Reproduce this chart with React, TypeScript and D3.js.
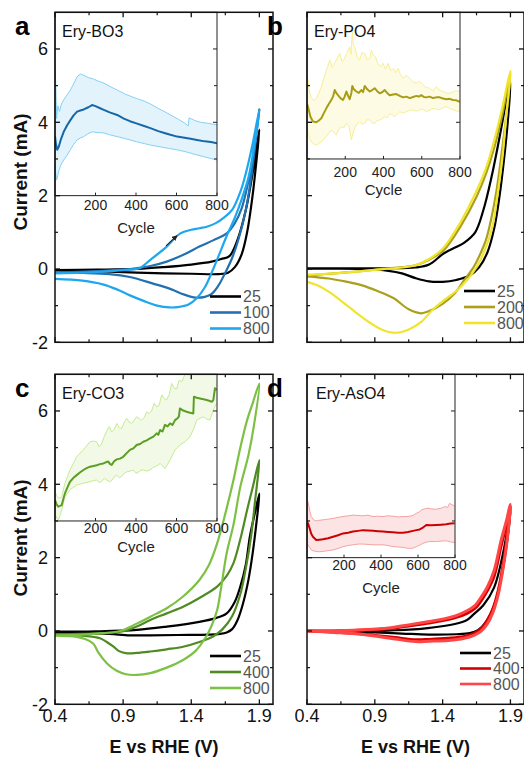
import React from 'react';
import * as d3 from 'd3';

const FONT = '"Liberation Sans", Arial, Helvetica, sans-serif';

// ---------- axes ----------
const xDomain: [number, number] = [0.4, 2.0];
const yDomain: [number, number] = [-2, 7];
const xTicks = [0.4, 0.9, 1.4, 1.9];
const xMinorTicks = [0.65, 1.15, 1.65];
const yTicks = [-2, 0, 2, 4, 6];
const yMinorTicks = [-1, 1, 3, 5];
const cycleDomain: [number, number] = [0, 800];
const cycleTicks = [200, 400, 600, 800];

// ---------- panel a : Ery-BO3 ----------
const a25V = [0.4, 0.7, 1.0, 1.2, 1.4, 1.55, 1.62, 1.68, 1.74, 1.8, 1.85, 1.9, 1.88, 1.85, 1.81, 1.77, 1.72, 1.67, 1.6, 1.4, 1.2, 1.0, 0.8, 0.6, 0.4];
const a25I = [-0.03, -0.02, 0.0, 0.05, 0.12, 0.2, 0.27, 0.35, 0.8, 1.6, 2.6, 3.8, 3.0, 2.0, 1.0, 0.4, 0.05, -0.1, -0.14, -0.13, -0.12, -0.1, -0.07, -0.05, -0.04];
const a100V = [0.4, 0.7, 0.9, 1.0, 1.1, 1.22, 1.35, 1.46, 1.56, 1.66, 1.72, 1.77, 1.82, 1.86, 1.9, 1.87, 1.84, 1.8, 1.75, 1.7, 1.65, 1.6, 1.55, 1.5, 1.43, 1.35, 1.25, 1.12, 0.95, 0.8, 0.6, 0.4];
const a100I = [-0.1, -0.06, -0.02, 0.02, 0.08, 0.2, 0.4, 0.61, 0.78, 0.97, 1.25, 1.65, 2.4, 3.2, 4.35, 3.4, 2.5, 1.6, 0.85, 0.3, -0.1, -0.45, -0.68, -0.76, -0.78, -0.7, -0.55, -0.4, -0.22, -0.14, -0.11, -0.1];
const a800V = [0.4, 0.6, 0.8, 0.95, 1.02, 1.1, 1.22, 1.32, 1.4, 1.46, 1.52, 1.58, 1.64, 1.7, 1.76, 1.8, 1.85, 1.9, 1.86, 1.82, 1.77, 1.72, 1.66, 1.6, 1.55, 1.5, 1.44, 1.38, 1.3, 1.24, 1.15, 1.05, 0.95, 0.85, 0.75, 0.6, 0.4];
const a800I = [-0.12, -0.1, -0.06, -0.02, 0.02, 0.25, 0.61, 0.97, 1.07, 1.11, 1.16, 1.25, 1.4, 1.61, 2.1, 2.6, 3.4, 4.35, 3.3, 2.5, 1.9, 1.4, 0.9, 0.35, -0.1, -0.5, -0.8, -0.97, -1.04, -1.05, -1.0, -0.87, -0.72, -0.55, -0.42, -0.32, -0.27];
const aArrowV = [1.215, 1.293];
const aArrowI = [0.63, 0.9];
const aMeanCyc = [0, 5, 11, 19, 30, 43, 60, 76, 92, 109, 125, 142, 165, 183, 200, 220, 241, 270, 307, 340, 370, 402, 440, 471, 510, 540, 570, 603, 640, 670, 701, 740, 770, 800];
const aMean = [3.62, 3.4, 3.25, 3.34, 3.55, 3.74, 3.92, 4.06, 4.19, 4.29, 4.32, 4.35, 4.41, 4.47, 4.44, 4.39, 4.34, 4.27, 4.2, 4.1, 4.03, 3.97, 3.9, 3.84, 3.76, 3.71, 3.66, 3.61, 3.58, 3.55, 3.52, 3.48, 3.46, 3.43];
const aUpCyc = [0, 4, 8, 14, 22, 32, 43, 60, 76, 92, 109, 125, 142, 165, 190, 215, 241, 270, 307, 350, 402, 440, 471, 510, 548, 580, 610, 640, 658, 662, 690, 720, 760, 800];
const aUp = [5.55, 5.0, 4.1, 4.45, 4.3, 4.5, 4.61, 4.75, 4.88, 5.05, 5.24, 5.32, 5.28, 5.22, 5.18, 5.12, 5.07, 4.98, 4.88, 4.76, 4.65, 4.58, 4.5, 4.38, 4.27, 4.17, 4.08, 3.98, 3.9, 4.12, 4.05, 4.0, 3.97, 3.93];
const aLoCyc = [0, 4, 8, 14, 20, 30, 43, 60, 76, 92, 109, 125, 142, 160, 183, 210, 241, 270, 307, 350, 402, 440, 471, 520, 560, 603, 650, 701, 750, 800];
const aLo = [2.85, 2.6, 2.43, 2.55, 2.7, 2.85, 2.97, 3.1, 3.25, 3.4, 3.52, 3.57, 3.61, 3.68, 3.74, 3.72, 3.71, 3.66, 3.61, 3.55, 3.47, 3.42, 3.38, 3.33, 3.29, 3.25, 3.19, 3.11, 3.04, 2.97];

// ---------- panel b : Ery-PO4 ----------
const b25V = [0.4, 0.7, 1.0, 1.2, 1.3, 1.41, 1.5, 1.56, 1.64, 1.7, 1.76, 1.82, 1.87, 1.9, 1.88, 1.85, 1.82, 1.78, 1.73, 1.67, 1.6, 1.5, 1.4, 1.3, 1.2, 1.1, 1.0, 0.8, 0.6, 0.4];
const b25I = [0.02, 0.02, 0.02, 0.04, 0.12, 0.43, 0.6, 0.72, 1.0, 1.6, 2.5, 3.6, 4.6, 5.1, 4.0, 2.9, 2.0, 1.1, 0.45, 0.05, -0.18, -0.3, -0.35, -0.34, -0.25, -0.12, -0.05, 0.0, 0.01, 0.01];
const b200V = [0.4, 0.6, 0.8, 0.95, 1.1, 1.2, 1.3, 1.41, 1.53, 1.65, 1.72, 1.78, 1.84, 1.9, 1.87, 1.84, 1.8, 1.76, 1.72, 1.67, 1.63, 1.56, 1.49, 1.4, 1.3, 1.24, 1.15, 1.04, 0.92, 0.8, 0.68, 0.56, 0.4];
const b200I = [-0.18, -0.12, -0.06, 0.0, 0.05, 0.1, 0.25, 0.52, 1.15, 1.97, 2.6, 3.3, 4.2, 5.3, 4.2, 3.3, 2.2, 1.4, 0.8, 0.35, 0.06, -0.3, -0.66, -0.95, -1.15, -1.21, -1.1, -0.8, -0.6, -0.44, -0.34, -0.26, -0.2];
const b800V = [0.4, 0.6, 0.8, 0.95, 1.1, 1.2, 1.3, 1.4, 1.52, 1.64, 1.72, 1.78, 1.84, 1.9, 1.87, 1.84, 1.8, 1.77, 1.72, 1.65, 1.58, 1.5, 1.41, 1.33, 1.24, 1.15, 1.05, 0.95, 0.8, 0.68, 0.56, 0.48, 0.4];
const b800I = [-0.16, -0.12, -0.06, -0.01, 0.04, 0.1, 0.27, 0.55, 1.2, 2.05, 2.75, 3.5, 4.4, 5.4, 4.2, 3.0, 1.9, 1.2, 0.6, 0.05, -0.3, -0.6, -0.85, -1.1, -1.45, -1.65, -1.74, -1.65, -1.3, -0.95, -0.62, -0.45, -0.35];
const bMeanCyc = [0, 5, 18, 31, 49, 62, 75, 88, 101, 114, 127, 136, 145, 153, 162, 175, 188, 197, 206, 215, 223, 232, 237, 245, 258, 271, 284, 293, 302, 315, 328, 341, 354, 367, 380, 393, 406, 419, 432, 450, 467, 485, 502, 520, 537, 555, 572, 585, 598, 611, 624, 641, 659, 676, 694, 711, 729, 746, 763, 781, 798];
const bMean = [4.5, 4.43, 4.15, 4.02, 4.0, 4.05, 4.11, 4.25, 4.38, 4.5, 4.61, 4.7, 4.88, 4.8, 4.74, 4.66, 4.61, 4.7, 4.84, 4.72, 4.63, 4.8, 4.99, 4.9, 4.84, 4.8, 4.88, 4.82, 4.99, 4.9, 4.84, 4.88, 4.93, 4.85, 4.79, 4.82, 4.88, 4.8, 4.74, 4.76, 4.77, 4.72, 4.68, 4.7, 4.66, 4.69, 4.72, 4.7, 4.74, 4.69, 4.68, 4.7, 4.66, 4.68, 4.68, 4.65, 4.63, 4.64, 4.61, 4.6, 4.56];
const bUpCyc = [0, 5, 14, 23, 36, 49, 62, 75, 88, 101, 110, 119, 132, 145, 158, 171, 184, 197, 210, 223, 230, 237, 243, 249, 262, 275, 288, 302, 315, 328, 337, 345, 358, 371, 384, 397, 410, 424, 437, 450, 463, 476, 489, 502, 519, 537, 554, 572, 589, 607, 624, 641, 659, 676, 694, 711, 729, 746, 763, 781, 798];
const bUp = [5.25, 5.15, 4.8, 4.66, 4.6, 4.66, 4.8, 4.97, 5.2, 5.43, 5.55, 5.7, 5.5, 5.61, 5.75, 5.88, 5.65, 5.75, 5.9, 6.06, 5.85, 6.47, 6.1, 6.06, 5.8, 5.7, 5.9, 5.88, 5.7, 5.75, 5.97, 5.85, 5.79, 5.6, 5.52, 5.61, 5.45, 5.61, 5.4, 5.47, 5.35, 5.47, 5.3, 5.2, 5.28, 5.2, 5.1, 5.07, 5.12, 5.02, 4.95, 4.93, 4.85, 4.97, 4.88, 4.84, 4.8, 4.79, 4.83, 4.86, 4.84];
const bLoCyc = [0, 5, 14, 23, 36, 49, 62, 75, 88, 101, 114, 127, 140, 153, 166, 180, 193, 206, 219, 232, 240, 249, 262, 275, 288, 302, 315, 328, 341, 354, 367, 380, 393, 406, 419, 432, 445, 458, 471, 485, 502, 519, 537, 554, 572, 589, 607, 624, 641, 659, 676, 694, 711, 729, 746, 763, 781, 798];
const bLo = [3.85, 3.7, 3.55, 3.47, 3.4, 3.38, 3.42, 3.47, 3.55, 3.61, 3.7, 3.79, 3.72, 3.65, 3.8, 3.88, 3.85, 3.97, 3.9, 3.52, 3.7, 3.84, 3.95, 4.02, 3.95, 3.97, 4.08, 4.06, 3.98, 3.97, 4.05, 4.06, 4.1, 4.15, 4.12, 4.24, 4.2, 4.15, 4.22, 4.29, 4.25, 4.29, 4.33, 4.34, 4.3, 4.34, 4.36, 4.29, 4.33, 4.38, 4.36, 4.34, 4.4, 4.43, 4.38, 4.34, 4.31, 4.29];

// ---------- panel c : Ery-CO3 ----------
const c25V = [0.4, 0.7, 1.0, 1.22, 1.46, 1.58, 1.66, 1.72, 1.76, 1.8, 1.83, 1.86, 1.9, 1.88, 1.85, 1.82, 1.78, 1.74, 1.7, 1.66, 1.61, 1.53, 1.3, 1.1, 0.95, 0.8, 0.6, 0.4];
const c25I = [-0.02, -0.01, 0.03, 0.12, 0.25, 0.35, 0.48, 0.8, 1.21, 1.8, 2.57, 3.1, 3.75, 3.0, 2.1, 1.4, 0.75, 0.3, 0.05, -0.04, -0.08, -0.1, -0.11, -0.12, -0.12, -0.08, -0.05, -0.04];
const c400V = [0.4, 0.6, 0.8, 0.91, 1.0, 1.1, 1.22, 1.34, 1.46, 1.59, 1.66, 1.71, 1.76, 1.81, 1.85, 1.9, 1.87, 1.84, 1.8, 1.76, 1.7, 1.63, 1.56, 1.46, 1.34, 1.22, 1.1, 1.0, 0.93, 0.87, 0.83, 0.78, 0.73, 0.6, 0.49, 0.4];
const c400I = [-0.09, -0.08, -0.05, 0.0, 0.12, 0.3, 0.48, 0.66, 0.9, 1.21, 1.5, 1.85, 2.5, 3.3, 3.9, 4.66, 3.6, 2.6, 1.7, 1.0, 0.4, 0.05, -0.15, -0.3, -0.43, -0.5, -0.56, -0.6, -0.61, -0.55, -0.43, -0.3, -0.2, -0.13, -0.11, -0.1];
const c800V = [0.4, 0.6, 0.75, 0.88, 1.0, 1.1, 1.22, 1.34, 1.46, 1.53, 1.59, 1.65, 1.71, 1.76, 1.81, 1.85, 1.9, 1.86, 1.82, 1.76, 1.71, 1.66, 1.62, 1.59, 1.55, 1.51, 1.43, 1.34, 1.22, 1.1, 1.0, 0.92, 0.85, 0.78, 0.72, 0.68, 0.62, 0.56, 0.48, 0.4];
const c800I = [-0.12, -0.1, -0.06, 0.0, 0.2, 0.39, 0.62, 0.94, 1.39, 1.8, 2.39, 3.2, 4.12, 5.0, 5.75, 6.2, 6.75, 5.6, 4.8, 3.93, 2.9, 2.12, 1.2, 0.57, 0.15, -0.15, -0.55, -0.79, -1.0, -1.15, -1.2, -1.18, -1.08, -0.88, -0.6, -0.34, -0.22, -0.16, -0.14, -0.13];
const cMeanCyc = [0, 8, 16, 25, 33, 41, 49, 62, 74, 90, 107, 123, 140, 156, 173, 190, 206, 222, 239, 251, 263, 272, 280, 292, 305, 321, 337, 354, 370, 387, 403, 420, 436, 453, 469, 486, 502, 510, 519, 531, 543, 556, 568, 580, 593, 605, 612, 617, 630, 650, 667, 683, 686, 700, 716, 733, 749, 765, 774, 782, 790, 798];
const cMean = [3.57, 3.45, 3.39, 3.41, 3.43, 3.6, 3.75, 3.92, 4.07, 4.17, 4.25, 4.32, 4.39, 4.44, 4.48, 4.5, 4.52, 4.55, 4.57, 4.6, 4.62, 4.55, 4.53, 4.63, 4.68, 4.7, 4.75, 4.85, 4.94, 4.98, 5.07, 5.1, 5.16, 5.2, 5.25, 5.3, 5.39, 5.35, 5.48, 5.44, 5.62, 5.58, 5.66, 5.62, 5.75, 5.8, 5.85, 6.07, 6.02, 5.98, 5.95, 5.93, 6.39, 6.36, 6.34, 6.32, 6.3, 6.27, 6.25, 6.3, 6.62, 6.57];
const cUpCyc = [0, 8, 16, 25, 33, 49, 74, 107, 140, 173, 190, 206, 218, 230, 243, 255, 268, 280, 292, 305, 317, 329, 341, 354, 366, 379, 391, 403, 416, 428, 441, 453, 465, 477, 490, 502, 514, 527, 539, 551, 564, 576, 588, 601, 613, 626, 638, 650, 662, 675, 684, 691, 720, 760, 800];
const cUp = [3.8, 3.7, 3.62, 3.64, 3.66, 4.03, 4.39, 4.75, 4.94, 5.16, 5.18, 5.16, 5.02, 5.1, 5.3, 5.45, 5.57, 5.43, 5.5, 5.66, 5.55, 5.52, 5.68, 5.8, 5.7, 5.66, 5.75, 5.84, 5.8, 5.75, 5.82, 5.98, 5.93, 6.0, 6.21, 6.11, 6.15, 6.44, 6.34, 6.3, 6.45, 6.75, 6.62, 6.6, 6.84, 6.8, 6.95, 7.1, 7.2, 7.3, 7.4, 7.5, 7.5, 7.5, 7.5];
const cLoCyc = [0, 8, 16, 25, 33, 49, 74, 107, 140, 173, 190, 206, 218, 230, 243, 255, 268, 280, 292, 305, 317, 329, 341, 354, 370, 387, 400, 412, 424, 436, 453, 469, 482, 494, 507, 519, 531, 543, 556, 568, 580, 593, 605, 617, 642, 667, 684, 700, 716, 733, 749, 765, 782, 798];
const cLo = [3.21, 3.08, 3.03, 3.15, 3.3, 3.66, 3.85, 3.98, 4.03, 4.07, 4.1, 4.12, 4.05, 4.07, 4.16, 4.12, 4.07, 4.1, 4.2, 4.25, 4.18, 4.21, 4.3, 4.34, 4.36, 4.39, 4.3, 4.33, 4.38, 4.39, 4.36, 4.39, 4.45, 4.48, 4.52, 4.57, 4.5, 4.43, 4.55, 4.66, 4.8, 4.94, 5.0, 5.07, 5.16, 5.3, 5.5, 5.75, 5.8, 5.84, 5.78, 5.75, 6.03, 6.21];

// ---------- panel d : Ery-AsO4 ----------
const d25V = [0.4, 0.7, 0.9, 1.05, 1.29, 1.49, 1.58, 1.63, 1.7, 1.78, 1.85, 1.9, 1.87, 1.83, 1.78, 1.72, 1.66, 1.6, 1.5, 1.3, 1.1, 0.9, 0.75, 0.4];
const d25I = [0.0, 0.0, 0.01, 0.02, 0.08, 0.19, 0.3, 0.46, 0.7, 1.19, 2.2, 3.25, 2.3, 1.4, 0.7, 0.25, 0.02, -0.06, -0.09, -0.1, -0.07, -0.04, -0.02, 0.0];
const d400V = [0.4, 0.6, 0.8, 1.0, 1.17, 1.3, 1.41, 1.5, 1.58, 1.64, 1.68, 1.73, 1.78, 1.83, 1.87, 1.9, 1.88, 1.85, 1.81, 1.77, 1.73, 1.68, 1.63, 1.56, 1.44, 1.3, 1.2, 1.05, 0.9, 0.8, 0.6, 0.4];
const d400I = [0.0, 0.0, 0.02, 0.06, 0.15, 0.22, 0.29, 0.37, 0.48, 0.62, 0.8, 1.1, 1.5, 2.3, 2.9, 3.4, 2.7, 1.9, 1.1, 0.6, 0.3, 0.05, -0.07, -0.15, -0.2, -0.23, -0.24, -0.18, -0.12, -0.08, -0.03, 0.0];
const d800V = [0.4, 0.6, 0.8, 1.0, 1.17, 1.3, 1.41, 1.5, 1.58, 1.64, 1.68, 1.73, 1.78, 1.83, 1.87, 1.9, 1.88, 1.85, 1.81, 1.77, 1.73, 1.68, 1.63, 1.56, 1.44, 1.3, 1.2, 1.05, 0.9, 0.8, 0.6, 0.4];
const d800I = [0.0, 0.0, 0.03, 0.08, 0.18, 0.26, 0.33, 0.42, 0.55, 0.7, 0.9, 1.2, 1.65, 2.45, 3.0, 3.45, 2.6, 1.8, 1.0, 0.5, 0.2, -0.02, -0.12, -0.2, -0.26, -0.28, -0.29, -0.22, -0.14, -0.09, -0.04, 0.0];
const dMeanCyc = [0, 5, 14, 23, 32, 50, 68, 86, 114, 141, 168, 195, 222, 249, 276, 303, 330, 357, 384, 411, 438, 465, 492, 519, 546, 573, 591, 609, 627, 645, 672, 699, 726, 753, 776, 798];
const dMean = [2.88, 2.94, 2.8, 2.65, 2.57, 2.48, 2.49, 2.5, 2.53, 2.57, 2.61, 2.66, 2.68, 2.71, 2.73, 2.75, 2.74, 2.73, 2.72, 2.71, 2.7, 2.69, 2.68, 2.68, 2.7, 2.73, 2.75, 2.77, 2.82, 2.89, 2.88, 2.89, 2.9, 2.91, 2.93, 2.94];
const dUpCyc = [0, 5, 14, 23, 36, 50, 68, 86, 114, 141, 168, 195, 222, 249, 276, 303, 330, 357, 384, 411, 438, 465, 492, 519, 546, 573, 591, 609, 618, 636, 654, 672, 699, 726, 744, 760, 771, 785, 798];
const dUp = [3.5, 3.53, 3.3, 3.12, 3.03, 3.0, 3.02, 3.03, 3.05, 3.07, 3.1, 3.12, 3.14, 3.16, 3.15, 3.14, 3.16, 3.12, 3.13, 3.12, 3.14, 3.13, 3.11, 3.12, 3.12, 3.15, 3.21, 3.25, 3.3, 3.33, 3.35, 3.33, 3.32, 3.35, 3.39, 3.37, 3.48, 3.44, 3.41];
const dLoCyc = [0, 5, 14, 23, 36, 50, 68, 86, 114, 141, 168, 195, 222, 249, 276, 303, 330, 357, 384, 411, 438, 465, 492, 519, 537, 555, 573, 591, 609, 627, 645, 663, 681, 699, 726, 753, 776, 798];
const dLo = [2.4, 2.35, 2.28, 2.21, 2.18, 2.17, 2.16, 2.17, 2.19, 2.21, 2.25, 2.3, 2.33, 2.35, 2.37, 2.37, 2.36, 2.35, 2.35, 2.35, 2.33, 2.3, 2.29, 2.28, 2.26, 2.25, 2.26, 2.3, 2.34, 2.39, 2.42, 2.44, 2.44, 2.44, 2.45, 2.46, 2.43, 2.41];

// ---------- configuration built from the arrays ----------
type Curve = { label: string; color: string; v: number[]; i: number[]; w: number };
type Band = { meanCyc: number[]; mean: number[]; upCyc: number[]; up: number[]; loCyc: number[]; lo: number[]; meanColor: string; edgeColor: string; fill: string };
type PanelCfg = {
  id: string; letter: string; title: string;
  x0: number; x1: number; y0: number; y1: number;
  showY: boolean; showX: boolean; yTitleCy: number;
  insetX1: number; insetBottom: number; insetTickBase: number; insetTitleDx: number; cycleBase: number;
  legX: number; legY: number; legStep: number;
  curves: Curve[]; band: Band;
  arrow?: { v: number[]; i: number[] };
};

const panels: PanelCfg[] = [
  {
    id: 'a', letter: 'a', title: 'Ery-BO3', x0: 55, x1: 273, y0: 12.3, y1: 342.3, showY: true, showX: false, yTitleCy: 172,
    insetX1: 217, insetBottom: 2, insetTickBase: 210, insetTitleDx: 7, cycleBase: 233,
    legX: 210, legY: 296.5, legStep: 16,
    curves: [
      { label: '25', color: '#000000', v: a25V, i: a25I, w: 2.2 },
      { label: '100', color: '#2270b2', v: a100V, i: a100I, w: 2.2 },
      { label: '800', color: '#1ea6ee', v: a800V, i: a800I, w: 2.2 },
    ],
    band: { meanCyc: aMeanCyc, mean: aMean, upCyc: aUpCyc, up: aUp, loCyc: aLoCyc, lo: aLo, meanColor: '#1766a8', edgeColor: '#86d0f4', fill: '#e2f3fc' },
    arrow: { v: aArrowV, i: aArrowI },
  },
  {
    id: 'b', letter: 'b', title: 'Ery-PO4', x0: 307, x1: 524, y0: 12.3, y1: 342.3, showY: false, showX: false, yTitleCy: 172,
    insetX1: 460, insetBottom: 3, insetTickBase: 177, insetTitleDx: 7, cycleBase: 195,
    legX: 464, legY: 291, legStep: 16,
    curves: [
      { label: '25', color: '#000000', v: b25V, i: b25I, w: 2.2 },
      { label: '200', color: '#aba01c', v: b200V, i: b200I, w: 2.2 },
      { label: '800', color: '#f0e42c', v: b800V, i: b800I, w: 2.2 },
    ],
    band: { meanCyc: bMeanCyc, mean: bMean, upCyc: bUpCyc, up: bUp, loCyc: bLoCyc, lo: bLo, meanColor: '#a89c16', edgeColor: '#f6ee98', fill: '#fdfbe3' },
  },
  {
    id: 'c', letter: 'c', title: 'Ery-CO3', x0: 55, x1: 273, y0: 374.3, y1: 704.3, showY: true, showX: true, yTitleCy: 538,
    insetX1: 217, insetBottom: 3, insetTickBase: 533, insetTitleDx: 7, cycleBase: 552,
    legX: 210, legY: 656, legStep: 16,
    curves: [
      { label: '25', color: '#000000', v: c25V, i: c25I, w: 2.2 },
      { label: '400', color: '#4f8a22', v: c400V, i: c400I, w: 2.2 },
      { label: '800', color: '#7cc143', v: c800V, i: c800I, w: 2.2 },
    ],
    band: { meanCyc: cMeanCyc, mean: cMean, upCyc: cUpCyc, up: cUp, loCyc: cLoCyc, lo: cLo, meanColor: '#5a9e24', edgeColor: '#c6ea92', fill: '#f2fae7' },
  },
  {
    id: 'd', letter: 'd', title: 'Ery-AsO4', x0: 307, x1: 524, y0: 374.3, y1: 704.3, showY: false, showX: true, yTitleCy: 538,
    insetX1: 455, insetBottom: 2, insetTickBase: 570, insetTitleDx: 9, cycleBase: 593,
    legX: 460, legY: 653, legStep: 15.5,
    curves: [
      { label: '25', color: '#000000', v: d25V, i: d25I, w: 2.2 },
      { label: '400', color: '#d40000', v: d400V, i: d400I, w: 3 },
      { label: '800', color: '#ff4646', v: d800V, i: d800I, w: 3 },
    ],
    band: { meanCyc: dMeanCyc, mean: dMean, upCyc: dUpCyc, up: dUp, loCyc: dLoCyc, lo: dLo, meanColor: '#cc0000', edgeColor: '#f4a2a2', fill: '#fde4e4' },
  },
];

const pairs = (a: number[], b: number[]) => a.map((v, k) => [v, b[k]] as [number, number]);

function Panel({ p }: { p: PanelCfg }) {
  const x = d3.scaleLinear().domain(xDomain).range([p.x0, p.x1]);
  const y = d3.scaleLinear().domain(yDomain).range([p.y1, p.y0]);
  const cx = d3.scaleLinear().domain(cycleDomain).range([p.x0, p.insetX1]);
  const iy0 = y(yDomain[1]);
  const iy1 = y(p.insetBottom);

  const cvLine = d3.line<[number, number]>().x(d => x(d[0])).y(d => y(d[1])).curve(d3.curveCatmullRom.alpha(0.5));
  const inLine = d3.line<[number, number]>().x(d => cx(d[0])).y(d => y(d[1]));

  const up = pairs(p.band.upCyc, p.band.up);
  const lo = pairs(p.band.loCyc, p.band.lo);
  const bandPath = inLine([...up, ...lo.slice().reverse()]) + 'Z';

  const insetYTicks = d3.range(Math.ceil(p.insetBottom + 0.5), 7);
  const tickCol = '#111';

  return (
    <g>
      <defs>
        <clipPath id={`clipMain-${p.id}`}>
          <rect x={p.x0} y={p.y0} width={p.x1 - p.x0} height={p.y1 - p.y0} />
        </clipPath>
        <clipPath id={`clipInset-${p.id}`}>
          <rect x={p.x0} y={iy0} width={p.insetX1 - p.x0} height={iy1 - iy0} />
        </clipPath>
      </defs>

      {/* main curves */}
      <g clipPath={`url(#clipMain-${p.id})`}>
        {p.curves.map(c => (
          <path key={c.label} d={cvLine(pairs(c.v, c.i)) || ''} fill="none" stroke={c.color} strokeWidth={c.w} strokeLinejoin="round" strokeLinecap="round" />
        ))}
      </g>

      {p.arrow && (
        <line x1={x(p.arrow.v[0])} y1={y(p.arrow.i[0])} x2={x(p.arrow.v[1])} y2={y(p.arrow.i[1])} stroke="#222" strokeWidth={1.1} markerEnd="url(#arrowHead)" />
      )}

      {/* inset */}
      <rect x={p.x0} y={iy0} width={p.insetX1 - p.x0} height={iy1 - iy0} fill="#fff" />
      <g clipPath={`url(#clipInset-${p.id})`}>
        <path d={bandPath} fill={p.band.fill} stroke="none" />
        <path d={inLine(up) || ''} fill="none" stroke={p.band.edgeColor} strokeWidth={1} />
        <path d={inLine(lo) || ''} fill="none" stroke={p.band.edgeColor} strokeWidth={1} />
        <path d={inLine(pairs(p.band.meanCyc, p.band.mean)) || ''} fill="none" stroke={p.band.meanColor} strokeWidth={2} strokeLinejoin="round" />
      </g>
      <rect x={p.x0} y={iy0} width={p.insetX1 - p.x0} height={iy1 - iy0} fill="none" stroke="#222" strokeWidth={1} />
      {insetYTicks.map(t => (
        <line key={`iyt${t}`} x1={p.insetX1} x2={p.insetX1 - (t % 2 === 0 ? 4 : 3)} y1={y(t)} y2={y(t)} stroke="#222" strokeWidth={1} />
      ))}
      {cycleTicks.map(t => (
        <g key={`ct${t}`}>
          <line x1={cx(t)} x2={cx(t)} y1={iy1} y2={iy1 - 3} stroke="#222" strokeWidth={1} />
          <text x={cx(t)} y={p.insetTickBase} textAnchor="middle" fontSize={14} fontFamily={FONT} fill="#222">{t}</text>
        </g>
      ))}
      <text x={(p.x0 + p.insetX1) / 2} y={p.cycleBase} textAnchor="middle" fontSize={15} fontFamily={FONT} fill="#222">Cycle</text>
      <text x={p.x0 + p.insetTitleDx} y={p.y0 + 24.5} fontSize={16} fontFamily={FONT} fill="#111">{p.title}</text>

      {/* frame */}
      <rect x={p.x0} y={p.y0} width={p.x1 - p.x0} height={p.y1 - p.y0} fill="none" stroke="#111" strokeWidth={1.5} />

      {/* y ticks */}
      {yTicks.map(t => (
        <g key={`yt${t}`}>
          <line x1={p.x0} x2={p.x0 + 5} y1={y(t)} y2={y(t)} stroke={tickCol} strokeWidth={1.3} />
          <line x1={p.x1} x2={p.x1 - 5} y1={y(t)} y2={y(t)} stroke={tickCol} strokeWidth={1.3} />
          {p.showY && (
            <text x={p.x0 - 7} y={y(t) + 6.5} textAnchor="end" fontSize={18} fontFamily={FONT} fill="#111">{t}</text>
          )}
        </g>
      ))}
      {yMinorTicks.map(t => (
        <g key={`ym${t}`}>
          <line x1={p.x0} x2={p.x0 + 3} y1={y(t)} y2={y(t)} stroke={tickCol} strokeWidth={1.2} />
          <line x1={p.x1} x2={p.x1 - 3} y1={y(t)} y2={y(t)} stroke={tickCol} strokeWidth={1.2} />
        </g>
      ))}

      {/* x ticks */}
      {xTicks.map(t => (
        <g key={`xt${t}`}>
          <line x1={x(t)} x2={x(t)} y1={p.y1} y2={p.y1 - 5} stroke={tickCol} strokeWidth={1.3} />
          <line x1={x(t)} x2={x(t)} y1={p.y0} y2={p.y0 + 5} stroke={tickCol} strokeWidth={1.3} />
          {p.showX && (
            <text x={x(t)} y={p.y1 + 17.5} textAnchor="middle" fontSize={18} fontFamily={FONT} fill="#111">{t.toFixed(1)}</text>
          )}
        </g>
      ))}
      {xMinorTicks.map(t => (
        <g key={`xm${t}`}>
          <line x1={x(t)} x2={x(t)} y1={p.y1} y2={p.y1 - 3} stroke={tickCol} strokeWidth={1.2} />
          <line x1={x(t)} x2={x(t)} y1={p.y0} y2={p.y0 + 3} stroke={tickCol} strokeWidth={1.2} />
        </g>
      ))}

      {/* legend */}
      {p.curves.map((c, k) => (
        <g key={`lg${c.label}`}>
          <line x1={p.legX} x2={p.legX + 31} y1={p.legY + k * p.legStep} y2={p.legY + k * p.legStep} stroke={c.color} strokeWidth={2.6} />
          <text x={p.legX + 33} y={p.legY + k * p.legStep + 5.5} fontSize={16} fontFamily={FONT} fill="#555">{c.label}</text>
        </g>
      ))}

      {/* panel letter */}
      <text x={p.x0 - 40} y={p.y0 + 23} fontSize={26} fontWeight="bold" fontFamily={FONT} fill="#000">{p.letter}</text>

      {/* axis titles */}
      {p.showY && (
        <text transform={`translate(27,${p.yTitleCy}) rotate(-90)`} textAnchor="middle" fontSize={19} fontWeight="bold" fontFamily={FONT} fill="#111">Current (mA)</text>
      )}
      {p.showX && (
        <text x={(p.x0 + p.x1) / 2} y={753} textAnchor="middle" fontSize={18} fontWeight="bold" fontFamily={FONT} fill="#111">E vs RHE (V)</text>
      )}
    </g>
  );
}

export default function App() {
  return (
    <svg width={524} height={759} viewBox="0 0 524 759" style={{ position: 'absolute', left: 0, top: 0, background: '#fff' }}>
      <defs>
        <marker id="arrowHead" viewBox="0 0 10 10" refX="8" refY="5" markerWidth="5" markerHeight="5" orient="auto">
          <path d="M0,0 L10,5 L0,10 Z" fill="#222" />
        </marker>
      </defs>
      <rect x={0} y={0} width={524} height={759} fill="#fff" />
      {panels.map(p => <Panel key={p.id} p={p} />)}
    </svg>
  );
}
